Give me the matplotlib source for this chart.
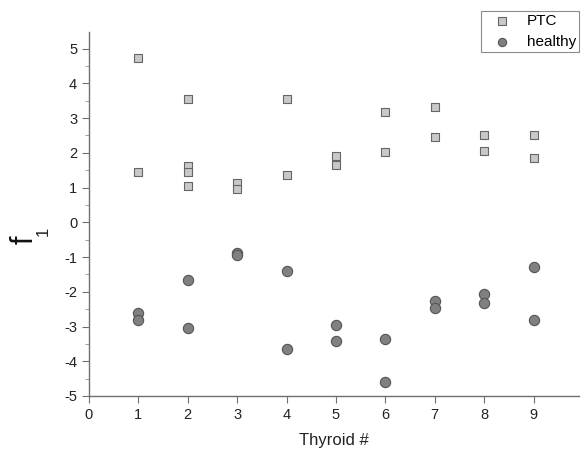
import matplotlib
matplotlib.use("Agg")
import matplotlib.pyplot as plt
from matplotlib.ticker import MultipleLocator

plt.rcParams['font.family'] = ['Liberation Sans', 'DejaVu Sans']
plt.rcParams['axes.unicode_minus'] = False

# PTC samples (squares)
ptc_x = [1, 1, 2, 2, 2, 2, 3, 3, 4, 4, 5, 5, 6, 6, 7, 7, 8, 8, 9, 9]
ptc_y = [4.72, 1.45, 3.54, 1.62, 1.45, 1.04, 1.12, 0.95, 3.54, 1.35,
         1.91, 1.66, 3.17, 2.01, 3.31, 2.47, 2.50, 2.05, 2.52, 1.84]

# healthy samples (circles)
healthy_x = [1, 1, 2, 2, 3, 3, 4, 4, 5, 5, 6, 6, 7, 7, 8, 8, 9, 9]
healthy_y = [-2.60, -2.80, -1.66, -3.03, -0.88, -0.94, -1.41, -3.64, -2.95, -3.43,
             -3.37, -4.59, -2.27, -2.47, -2.05, -2.31, -1.30, -2.81]

fig = plt.figure(figsize=(5.82, 4.54), dpi=100)
ax = fig.add_axes([0.1529, 0.1278, 0.842, 0.8018])

ax.scatter(ptc_x, ptc_y, marker='s', s=40, facecolor='#c8c8c8',
           edgecolor='#666666', linewidth=0.8, label='PTC', zorder=3)
ax.scatter(healthy_x, healthy_y, marker='o', s=55, facecolor='#808080',
           edgecolor='#555555', linewidth=0.8, label='healthy', zorder=3)

ax.set_xlim(0, 9.92)
ax.set_ylim(-5, 5.48)
ax.xaxis.set_major_locator(MultipleLocator(1))
ax.yaxis.set_major_locator(MultipleLocator(1))
ax.yaxis.set_minor_locator(MultipleLocator(0.5))

for s in ['top', 'right']:
    ax.spines[s].set_visible(False)
for s in ['left', 'bottom']:
    ax.spines[s].set_color('#707070')
    ax.spines[s].set_linewidth(1.0)

ax.tick_params(axis='both', which='major', direction='out', length=5,
               color='#707070', labelsize=10.5, labelcolor='#222222')
ax.tick_params(axis='y', which='minor', direction='out', length=3, color='#909090')

ax.set_xlabel('Thyroid #', fontsize=12, color='#222222', labelpad=8)

# y label "f" with a low-set subscript "1", as in the original
fig.text(0.043, 0.471, 'f', rotation=90, fontsize=22,
         color='#111111', ha='center', va='center')
fig.text(0.074, 0.491, '1', rotation=90, fontsize=12,
         color='#222222', ha='center', va='center')

leg = ax.legend(loc='upper left', bbox_to_anchor=(0.8265, 0.976),
                bbox_transform=fig.transFigure, frameon=True, fancybox=False,
                fontsize=11, handletextpad=0.5, borderpad=0.2, borderaxespad=0,
                labelspacing=0.45, handlelength=2.3, markerscale=0.8)
leg.get_frame().set_edgecolor('#707070')
leg.get_frame().set_linewidth(0.8)

fig.savefig('out.png', dpi=100)
